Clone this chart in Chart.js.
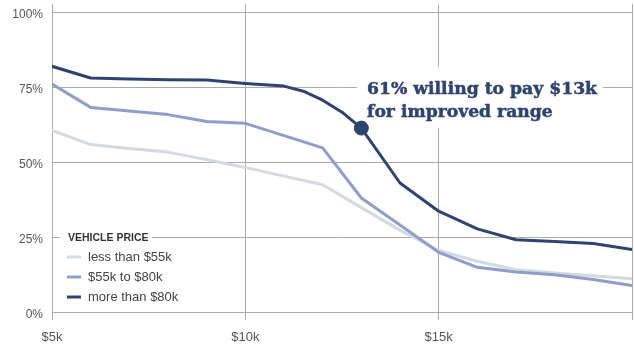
<!DOCTYPE html>
<html>
<head>
<meta charset="utf-8">
<script src="https://cdn.jsdelivr.net/npm/chart.js@4"></script>
<style>
  html, body { margin: 0; padding: 0; background: #fff; }
  #wrap { width: 634px; height: 349px; position: relative; }
</style>
</head>
<body>
<div id="wrap"><canvas id="lineChart"></canvas></div>
<script>
// price premium in $k, share willing to pay (%)
const priceK = [5, 6, 7, 8, 9, 10, 11, 12, 13, 14, 15, 16, 17, 18, 19, 20];
const under55k = [60.5, 55.8, 54.5, 53.3, 50.8, 48.2, 45.3, 42.4, 34.8, 27.3, 20.5, 16.9, 14.1, 13.0, 12.1, 11.1];
const from55to80k = [76.0, 68.2, 67.0, 65.8, 63.5, 62.9, 58.8, 54.7, 38.0, 29.0, 19.9, 14.9, 13.3, 12.4, 10.8, 8.8];
// the top line is read a bit finer around its bend
const over80kK = [5, 6, 7, 8, 9, 10, 11, 11.5, 12, 12.5, 13, 14, 15, 16, 17, 18, 19, 20];
const over80k = [81.9, 78.0, 77.7, 77.4, 77.3, 76.2, 75.3, 73.6, 70.6, 66.6, 61.3, 43.0, 33.6, 27.7, 24.1, 23.5, 22.8, 20.8];

const seriesNames = ['less than $55k', '$55k to $80k', 'more than $80k'];
const seriesColors = ['#d3dae0', '#8e9dcb', '#2f4372'];
const yTicks = [0, 25, 50, 75, 100];
const xTicks = [5, 10, 15, 20];

const legendTitle = 'VEHICLE PRICE';
const calloutLines = ['61% willing to pay $13k', 'for improved range'];
const highlightK = 13;

const toPoints = (ks, vals) => ks.map((k, i) => ({ x: k, y: vals[i] }));

const GRID = '#ababab';
const SANS = '"Liberation Sans", Arial, sans-serif';

// legend drawn inside the plot, under the 25% line
const legendPlugin = {
    id: 'insideLegend',
    beforeDatasetsDraw(chart) {
        const { ctx, scales } = chart;
        const yTitle = scales.y.getPixelForValue(25);
        ctx.save();
        ctx.fillStyle = '#fff';
        ctx.fillRect(60, yTitle - 3, 92, 6);
        ctx.font = 'bold 10.5px ' + SANS;
        ctx.fillStyle = '#333';
        ctx.textBaseline = 'middle';
        ctx.fillText(legendTitle, 68, yTitle + 1);

        ctx.font = '13px ' + SANS;
        const rows = [257, 277, 297];
        seriesNames.forEach((name, i) => {
            ctx.strokeStyle = seriesColors[i];
            ctx.lineWidth = 3;
            ctx.beginPath();
            ctx.moveTo(67, rows[i]);
            ctx.lineTo(81, rows[i]);
            ctx.stroke();
            ctx.fillStyle = '#444';
            ctx.fillText(name, 88, rows[i] + 0.5);
        });
        ctx.restore();
    }
};

// callout box with text next to the highlighted point
const calloutPlugin = {
    id: 'callout',
    beforeDatasetsDraw(chart) {
        const { ctx } = chart;
        ctx.save();
        ctx.fillStyle = '#fff';
        ctx.fillRect(357, 67, 246, 61);
        ctx.font = 'bold 17px "DejaVu Serif", serif';
        ctx.fillStyle = seriesColors[2];
        ctx.strokeStyle = seriesColors[2];
        ctx.lineWidth = 0.5;
        ctx.textBaseline = 'alphabetic';
        const w = ctx.measureText(calloutLines[0]).width;
        const sx = 230 / w;
        ctx.translate(367, 0);
        ctx.scale(sx, 1);
        calloutLines.forEach((line, i) => {
            ctx.fillText(line, 0, 93.5 + i * 23);
            ctx.strokeText(line, 0, 93.5 + i * 23);
        });
        ctx.restore();
    }
};

const data = {
    datasets: [
        {
            label: seriesNames[2],
            data: toPoints(over80kK, over80k),
            borderColor: seriesColors[2],
            pointBackgroundColor: seriesColors[2],
            pointBorderColor: seriesColors[2],
            pointBorderWidth: 1,
            pointRadius: c => over80kK[c.dataIndex] === highlightK ? 7 : 0
        },
        {
            label: seriesNames[1],
            data: toPoints(priceK, from55to80k),
            borderColor: seriesColors[1],
            pointRadius: 0
        },
        {
            label: seriesNames[0],
            data: toPoints(priceK, under55k),
            borderColor: seriesColors[0],
            pointRadius: 0
        }
    ]
};

const options = {
    animation: false,
    responsive: true,
    maintainAspectRatio: false,
    layout: { padding: { top: 4, right: 2, left: 0, bottom: 0 } },
    elements: {
        line: {
            tension: 0,
            borderWidth: 3,
            borderCapStyle: 'round',
            borderJoinStyle: 'round'
        }
    },
    scales: {
        x: {
            type: 'linear',
            min: 5,
            max: 20,
            afterBuildTicks: axis => { axis.ticks = xTicks.map(v => ({ value: v })); },
            afterFit: s => {
                s.height = 37;
                s.paddingLeft = 0;
                s.paddingRight = 0;
            },
            grid: { color: GRID, lineWidth: 1, tickLength: 8, drawTicks: true },
            border: { color: GRID },
            ticks: {
                padding: 10,
                color: '#555',
                font: { family: SANS, size: 13 },
                maxRotation: 0,
                callback: v => v === 20 ? '' : '$' + v + 'k'
            }
        },
        y: {
            min: 0,
            max: 102.67,
            afterBuildTicks: axis => { axis.ticks = yTicks.map(v => ({ value: v })); },
            afterFit: s => {
                s.width = 52;
                s.paddingTop = 0;
                s.paddingBottom = 0;
            },
            grid: { color: GRID, lineWidth: 1, drawTicks: false },
            border: { color: GRID },
            ticks: {
                padding: 9,
                labelOffset: 2.5,
                color: '#555',
                font: { family: SANS, size: 12 },
                callback: v => v + '%'
            }
        }
    },
    plugins: {
        legend: { display: false },
        tooltip: { enabled: false }
    }
};

const chart = new Chart(document.getElementById('lineChart'), {
    type: 'line',
    data,
    options,
    plugins: [legendPlugin, calloutPlugin]
});
</script>
</body>
</html>
